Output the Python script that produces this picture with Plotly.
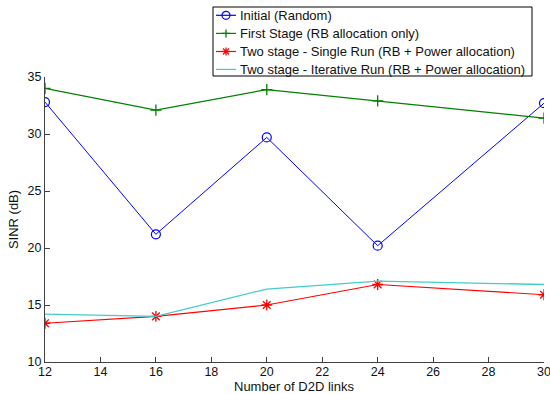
import plotly.graph_objects as go

x_links = [12, 16, 20, 24, 30]
sinr_initial = [32.8, 21.2, 29.7, 20.2, 32.7]
sinr_first_stage = [34.0, 32.1, 33.9, 32.9, 31.4]
sinr_single_run = [13.4, 14.0, 15.0, 16.8, 15.9]
sinr_iterative = [14.2, 14.0, 16.4, 17.1, 16.8]

names = [
    "Initial (Random)",
    "First Stage (RB allocation only)",
    "Two stage - Single Run (RB + Power allocation)",
    "Two stage - Iterative Run (RB + Power allocation)",
]
colors = ["#0000FF", "#008000", "#FF0000", "#44CCCC"]
symbols = ["circle", "plus", "asterisk", None]

W, H = 550, 394
L, R, T, B = 45, 6, 77, 32
PW, PH = W - L - R, H - T - B


def px(p):
    return (p - L) / PW


def py(p):
    return (H - B - p) / PH


fig = go.Figure()
fig.add_trace(go.Scatter(x=x_links, y=sinr_initial, name=names[0], mode="lines+markers",
                         line=dict(color=colors[0], width=1),
                         marker=dict(symbol="circle-open", size=9, color=colors[0], line=dict(width=1.2))))
fig.add_trace(go.Scatter(x=x_links, y=sinr_first_stage, name=names[1], mode="lines+markers",
                         line=dict(color=colors[1], width=1.2),
                         marker=dict(symbol="cross-thin-open", size=8, color=colors[1], line=dict(width=1.3, color=colors[1]))))
fig.add_trace(go.Scatter(x=x_links, y=sinr_single_run, name=names[2], mode="lines+markers",
                         line=dict(color=colors[2], width=1.2),
                         marker=dict(symbol="asterisk-open", size=9, color=colors[2], line=dict(width=1.3, color=colors[2]))))
fig.add_trace(go.Scatter(x=x_links, y=sinr_iterative, name=names[3], mode="lines",
                         line=dict(color=colors[3], width=1.3)))

# custom MATLAB-style legend (drawn with shapes + annotations)
shapes = []
annotations = []
box = dict(x0=213, x1=532, y0=7, y1=76)
shapes.append(dict(type="rect", xref="paper", yref="paper", layer="above",
                   x0=px(box["x0"]), x1=px(box["x1"]), y0=py(box["y1"]), y1=py(box["y0"]),
                   fillcolor="white", line=dict(color="black", width=1)))
row_y = [15.3, 33.4, 51.5, 69.4]
for name, col, sym, yy in zip(names, colors, symbols, row_y):
    shapes.append(dict(type="line", xref="paper", yref="paper", layer="above",
                       x0=px(216), x1=px(236), y0=py(yy), y1=py(yy),
                       line=dict(color=col, width=1.2)))
    cx, cy = px(226), py(yy)
    if sym == "circle":
        shapes.append(dict(type="circle", xref="paper", yref="paper", layer="above",
                           xsizemode="pixel", ysizemode="pixel", xanchor=cx, yanchor=cy,
                           x0=-4, x1=4, y0=-4, y1=4, line=dict(color=col, width=1.2)))
    elif sym in ("plus", "asterisk"):
        segs = [(-4, 0, 4, 0), (0, -4, 0, 4)]
        if sym == "asterisk":
            segs += [(-3, -3, 3, 3), (-3, 3, 3, -3)]
        for (a, b, c, d) in segs:
            shapes.append(dict(type="line", xref="paper", yref="paper", layer="above",
                               xsizemode="pixel", ysizemode="pixel", xanchor=cx, yanchor=cy,
                               x0=a, y0=b, x1=c, y1=d, line=dict(color=col, width=1.3)))
    annotations.append(dict(text=name, xref="paper", yref="paper", x=px(237.5), y=py(yy),
                            xanchor="left", yanchor="middle", showarrow=False,
                            font=dict(family="Liberation Sans, Arial", size=13, color="#111111")))

# x-axis title placed explicitly
annotations.append(dict(text="Number of D2D links", xref="paper", yref="paper",
                        x=px(294), y=py(386), xanchor="center", yanchor="middle",
                        showarrow=False, borderpad=0,
                        font=dict(family="Liberation Sans, Arial", size=13, color="#111111")))

axis_common = dict(
    showgrid=False, zeroline=False, showline=True, linecolor="#404040", linewidth=1,
    ticks="inside", ticklen=5, tickcolor="#404040", mirror=False, automargin=False,
    tickfont=dict(family="Liberation Sans, Arial", size=12.5, color="#111111"),
)

fig.update_layout(
    width=W, height=H,
    margin=dict(l=L, r=R, t=T, b=B, autoexpand=False),
    paper_bgcolor="white", plot_bgcolor="white",
    font=dict(family="Liberation Sans, Arial", size=13, color="#111111"),
    xaxis=dict(range=[12, 30], tickvals=[12, 14, 16, 18, 20, 22, 24, 26, 28, 30],
               ticklabeloverflow="allow", ticklabelstandoff=-2, **axis_common),
    yaxis=dict(range=[10, 35], tickvals=[10, 15, 20, 25, 30, 35],
               title=dict(text="SINR (dB)", standoff=6, font=dict(size=13)), **axis_common),
    showlegend=False,
    shapes=shapes,
    annotations=annotations,
)

fig.write_html("out.html")
